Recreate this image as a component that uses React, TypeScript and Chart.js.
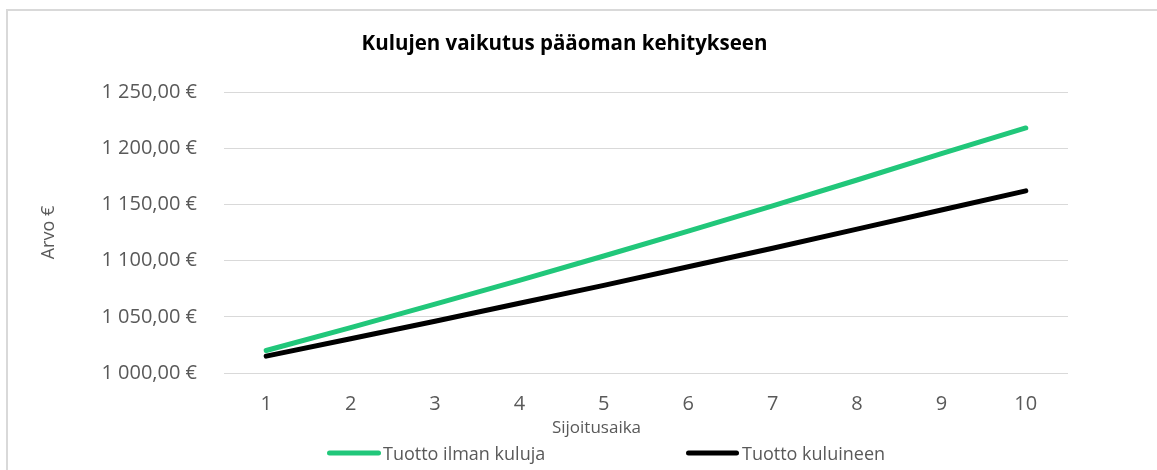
import React, { useEffect, useRef } from "react";
import { Chart, registerables } from "chart.js";

Chart.register(...registerables);

const categories = ["1", "2", "3", "4", "5", "6", "7", "8", "9", "10"];
const withoutFees = [1020, 1040.4, 1061.2, 1082.4, 1104.1, 1126.2, 1148.7, 1171.7, 1195.1, 1218];
const withFees = [1015, 1030.5, 1046, 1062, 1078, 1094.5, 1111, 1128, 1145, 1162];
const seriesNames = ["Tuotto ilman kuluja", "Tuotto kuluineen"];
const seriesColors = ["#21c77a", "#000000"];
const chartTitle = "Kulujen vaikutus pääoman kehitykseen";
const xTitle = "Sijoitusaika";
const yTitle = "Arvo €";
const yMin = 1000;
const yMax = 1250;
const yStep = 50;

const FONT = "'Open Sans', Lato, sans-serif";

function formatEuro(v: number): string {
  const [intPart, dec] = v.toFixed(2).split(".");
  const withSpaces = intPart.replace(/\B(?=(\d{3})+(?!\d))/g, " ");
  return `${withSpaces},${dec} €`;
}

const textPlugin = {
  id: "excelTexts",
  afterDraw(chart: any) {
    const ctx = chart.ctx;
    ctx.save();
    // Title
    ctx.fillStyle = "#000000";
    ctx.font = `bold 20.5px ${FONT}`;
    ctx.textAlign = "center";
    ctx.textBaseline = "alphabetic";
    ctx.fillText(chartTitle, 564.5, 50);
    // X axis title
    ctx.fillStyle = "#595959";
    ctx.font = `17px ${FONT}`;
    ctx.fillText(xTitle, 596.5, 433);
    // Legend
    const legendItems = [
      { x: 327, w: 54, textX: 383 },
      { x: 686, w: 53, textX: 742 },
    ];
    chart.data.datasets.forEach((ds: any, i: number) => {
      const it = legendItems[i];
      ctx.strokeStyle = ds.borderColor;
      ctx.lineWidth = 5;
      ctx.lineCap = "round";
      ctx.beginPath();
      ctx.moveTo(it.x + 2.5, 453);
      ctx.lineTo(it.x + it.w - 2.5, 453);
      ctx.stroke();
      ctx.fillStyle = "#595959";
      ctx.font = `18px ${FONT}`;
      ctx.textAlign = "left";
      ctx.textBaseline = "alphabetic";
      ctx.fillText(ds.label, it.textX, 460);
    });
    ctx.restore();
  },
};

export default function App() {
  const canvasRef = useRef<HTMLCanvasElement | null>(null);

  useEffect(() => {
    document.body.style.overflow = "hidden";
    const canvas = canvasRef.current;
    if (!canvas) return;
    const chart = new Chart(canvas, {
      type: "line",
      data: {
        labels: categories,
        datasets: [
          {
            label: seriesNames[0],
            data: withoutFees,
            borderColor: seriesColors[0],
            backgroundColor: seriesColors[0],
            borderWidth: 5,
            borderCapStyle: "round",
            pointRadius: 0,
            tension: 0,
          },
          {
            label: seriesNames[1],
            data: withFees,
            borderColor: seriesColors[1],
            backgroundColor: seriesColors[1],
            borderWidth: 5,
            borderCapStyle: "round",
            pointRadius: 0,
            tension: 0,
          },
        ],
      },
      options: {
        animation: false,
        responsive: false,
        maintainAspectRatio: false,
        layout: { padding: { left: 38, right: 89, top: 92, bottom: 0 } },
        plugins: {
          legend: { display: false },
          title: { display: false },
          tooltip: { enabled: false },
        },
        scales: {
          x: {
            offset: true,
            grid: { display: false, drawTicks: false },
            border: { display: false },
            ticks: {
              color: "#595959",
              font: { family: FONT, size: 20 },
              padding: 19,
              maxRotation: 0,
            },
            afterFit: (scale: any) => {
              scale.height = 97;
            },
          },
          y: {
            min: yMin,
            max: yMax,
            grid: { color: "#d9d9d9", lineWidth: 1, drawTicks: false },
            border: { display: false },
            ticks: {
              stepSize: yStep,
              color: "#595959",
              font: { family: FONT, size: 20 },
              padding: 27,
              callback: (v: any) => formatEuro(Number(v)),
            },
            title: {
              display: true,
              text: yTitle,
              color: "#595959",
              font: { family: FONT, size: 18 },
              padding: 0,
            },
            afterFit: (scale: any) => {
              scale.width = 186;
            },
          },
        },
      },
      plugins: [textPlugin],
    } as any);
    return () => chart.destroy();
  }, []);

  return (
    <div
      style={{
        position: "fixed",
        left: 0,
        top: 0,
        width: 1157,
        height: 470,
        overflow: "hidden",
        background: "#ffffff",
      }}
    >
      <div
        style={{
          position: "absolute",
          left: 6,
          top: 9,
          width: 1300,
          height: 700,
          border: "2px solid #d9d9d9",
        }}
      />
      <canvas
        ref={canvasRef}
        width={1157}
        height={470}
        style={{ position: "absolute", left: 0, top: 0, width: 1157, height: 470 }}
      />
    </div>
  );
}
